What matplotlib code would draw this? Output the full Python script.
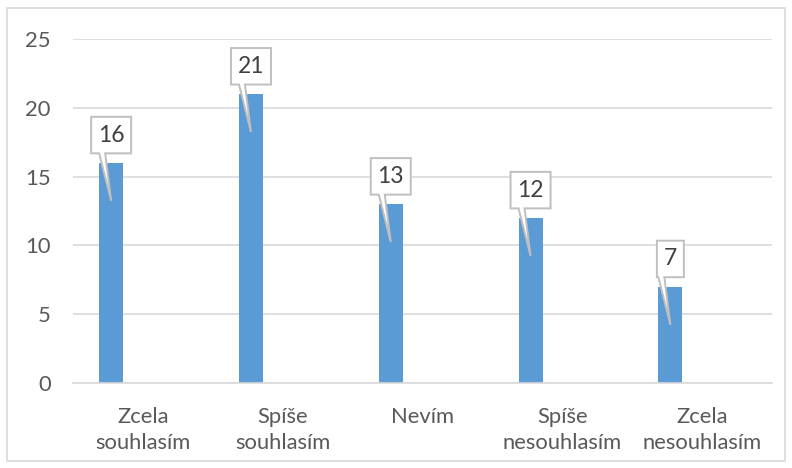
import matplotlib
matplotlib.use('Agg')
import matplotlib.pyplot as plt
import matplotlib.transforms as mtransforms
from matplotlib.patches import Polygon, Rectangle

categories = ['Zcela\nsouhlasím', 'Spíše\nsouhlasím', 'Nevím', 'Spíše\nnesouhlasím', 'Zcela\nnesouhlasím']
values = [16, 21, 13, 12, 7]
yticks = [0, 5, 10, 15, 20, 25]

BAR_COLOR = '#5B9BD5'
GRID_COLOR = '#D9D9D9'
TEXT_COLOR = '#595959'
plt.rcParams['font.family'] = ['Lato', 'DejaVu Sans']

W, H = 792, 468
fig = plt.figure(figsize=(W / 100, H / 100), dpi=100)
ax = fig.add_axes([73 / W, (H - 383) / H, (772 - 73) / W, (383 - 39) / H])

x = range(len(values))
offset = -0.227   # bar sits left of the category centre (empty 2nd series in source)
bars = ax.bar([i + offset for i in x], values, width=0.172, color=BAR_COLOR, zorder=2)

ax.set_xlim(-0.5, len(values) - 0.5)
ax.set_ylim(0, 25)
ax.set_yticks(yticks)
ax.set_xticks(list(x))
ax.set_xticklabels(categories, linespacing=1.42)
ax.tick_params(axis='both', length=0, labelsize=15.8, colors=TEXT_COLOR)
ax.tick_params(axis='y', pad=16)
ax.tick_params(axis='x', pad=17)
ax.grid(axis='y', color=GRID_COLOR, lw=1.2, zorder=0)
for s in ['top', 'right', 'left']:
    ax.spines[s].set_visible(False)
ax.spines['bottom'].set_color(GRID_COLOR)
ax.spines['bottom'].set_linewidth(1.2)

# callout labels: box above the bar with a tail pointing into it
px = mtransforms.Affine2D().scale(1 / 100) + fig.dpi_scale_trans
for i, v in zip(x, values):
    xc = i + offset
    tr = px + mtransforms.ScaledTranslation(xc, v, ax.transData)
    hw = (14 + 13 * len(str(v))) / 2
    b0, b1 = 9.5, 46
    verts = [(-hw, b0), (-12, b0), (0, -38), (-6, b0), (hw, b0), (hw, b1), (-hw, b1)]
    ax.add_patch(Polygon(verts, closed=True, transform=tr, facecolor='white',
                         edgecolor='#BFBFBF', lw=1.4, zorder=3, clip_on=False))
    ax.text(0, (b0 + b1) / 2, str(v), transform=tr, ha='center', va='center',
            fontsize=16.5, color='#404040', zorder=4)

fig.patches.append(Rectangle((7 / W, (H - 461) / H), (785 - 7) / W, (461 - 8) / H,
                             transform=fig.transFigure, fill=False,
                             edgecolor=GRID_COLOR, lw=1.2))

fig.savefig('out.png', dpi=100)
